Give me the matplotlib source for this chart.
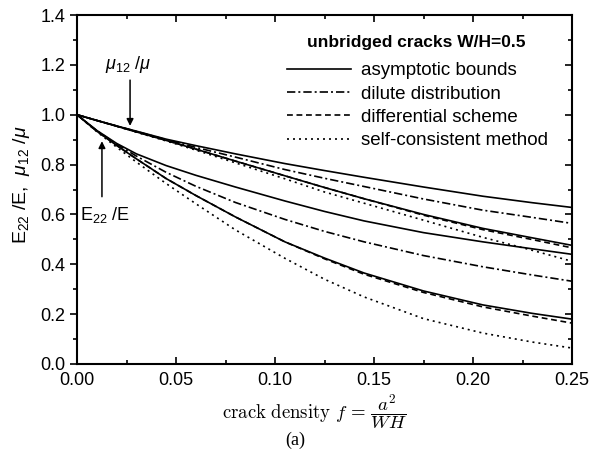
import numpy as np
import matplotlib
matplotlib.use('Agg')
import matplotlib.pyplot as plt
from matplotlib.lines import Line2D
from matplotlib.ticker import MultipleLocator, FormatStrFormatter

plt.rcParams['font.family'] = ['Liberation Sans', 'DejaVu Sans']
plt.rcParams['mathtext.fontset'] = 'custom'
plt.rcParams['mathtext.rm'] = 'Liberation Sans'
plt.rcParams['mathtext.it'] = 'Liberation Sans:italic'

# crack density values where curves were read
f = [0.0, 0.01, 0.02, 0.03, 0.045, 0.06, 0.08, 0.105, 0.125, 0.145, 0.175, 0.205, 0.23, 0.25]

# shear modulus mu12/mu
mu_upper = [1.0, 0.977, 0.955, 0.934, 0.902, 0.876, 0.843, 0.804, 0.776, 0.749, 0.710, 0.673, 0.647, 0.628]
mu_dilute = [1.0, 0.977, 0.955, 0.933, 0.900, 0.869, 0.830, 0.780, 0.745, 0.712, 0.662, 0.617, 0.588, 0.564]
mu_lower = [1.0, 0.977, 0.954, 0.931, 0.897, 0.862, 0.814, 0.755, 0.708, 0.663, 0.600, 0.544, 0.506, 0.476]
mu_diff = [1.0, 0.977, 0.954, 0.931, 0.897, 0.862, 0.814, 0.755, 0.708, 0.663, 0.597, 0.539, 0.499, 0.466]
mu_sc = [1.0, 0.977, 0.954, 0.930, 0.895, 0.858, 0.807, 0.743, 0.690, 0.645, 0.577, 0.508, 0.456, 0.412]

# Young's modulus E22/E
e_upper = [1.0, 0.937, 0.885, 0.843, 0.796, 0.757, 0.710, 0.654, 0.612, 0.574, 0.527, 0.490, 0.462, 0.440]
e_dilute = [1.0, 0.936, 0.882, 0.834, 0.769, 0.713, 0.648, 0.580, 0.532, 0.490, 0.435, 0.390, 0.357, 0.332]
e_lower = [1.0, 0.934, 0.877, 0.823, 0.744, 0.676, 0.590, 0.490, 0.425, 0.365, 0.293, 0.237, 0.203, 0.180]
e_diff = [1.0, 0.934, 0.877, 0.823, 0.744, 0.676, 0.590, 0.490, 0.422, 0.360, 0.287, 0.229, 0.192, 0.164]
e_sc = [1.0, 0.932, 0.870, 0.810, 0.724, 0.643, 0.538, 0.424, 0.340, 0.269, 0.182, 0.124, 0.088, 0.064]

legend_title = 'unbridged cracks W/H=0.5'
legend_labels = ['asymptotic bounds', 'dilute distribution',
                 'differential scheme', 'self-consistent method']

styles = {
    'solid': '-',
    'dashdot': (0, (5, 1.8, 1.2, 1.8)),
    'dashed': (0, (3.5, 2.2)),
    'dotted': (0, (1.2, 2.4)),
}
lw = 1.2

fig = plt.figure(figsize=(5.89, 4.70), dpi=100)
ax = fig.add_axes([77 / 589, 106 / 470, 495 / 589, 349 / 470])

for up, dil, low, dif, sc in [(mu_upper, mu_dilute, mu_lower, mu_diff, mu_sc),
                              (e_upper, e_dilute, e_lower, e_diff, e_sc)]:
    ax.plot(f, up, color='black', lw=lw, ls=styles['solid'])
    ax.plot(f, dil, color='black', lw=lw, ls=styles['dashdot'])
    ax.plot(f, dif, color='black', lw=lw, ls=styles['dashed'])
    ax.plot(f, low, color='black', lw=lw, ls=styles['solid'])
    ax.plot(f, sc, color='black', lw=lw, ls=styles['dotted'])

ax.set_xlim(0, 0.25)
ax.set_ylim(0, 1.4)
ax.xaxis.set_major_locator(MultipleLocator(0.05))
ax.xaxis.set_minor_locator(MultipleLocator(0.025))
ax.yaxis.set_major_locator(MultipleLocator(0.2))
ax.yaxis.set_minor_locator(MultipleLocator(0.1))
ax.xaxis.set_major_formatter(FormatStrFormatter('%.2f'))
ax.yaxis.set_major_formatter(FormatStrFormatter('%.1f'))

for sp in ax.spines.values():
    sp.set_linewidth(1.5)
ax.tick_params(axis='x', which='both', direction='in', top=True, width=1.2,
               labelsize=13, pad=6)
ax.tick_params(axis='x', which='major', length=5)
ax.tick_params(axis='x', which='minor', length=3)
ax.tick_params(axis='y', which='both', direction='out', width=1.2, labelsize=13)
ax.tick_params(axis='y', which='major', length=5)
ax.tick_params(axis='y', which='minor', length=3)

# right-hand ticks point inwards
ax2 = ax.twinx()
ax2.set_ylim(0, 1.4)
ax2.yaxis.set_major_locator(MultipleLocator(0.2))
ax2.yaxis.set_minor_locator(MultipleLocator(0.1))
ax2.tick_params(axis='y', which='both', direction='in', width=1.2, labelright=False)
ax2.tick_params(axis='y', which='major', length=5)
ax2.tick_params(axis='y', which='minor', length=3)
for sp in ax2.spines.values():
    sp.set_visible(False)

ax.set_ylabel(r'E$_{22}$ /E,  $\mu_{12}$ /$\mu$', fontsize=14)
ax.yaxis.set_label_coords(-0.09, 0.515)
ax.set_xlabel(r'$\mathrm{crack\ density}\ f\, =\, \dfrac{a^2}{WH}$',
              fontsize=13.5, math_fontfamily='cm')
ax.xaxis.set_label_coords(0.48, -0.082)
fig.text(295 / 589, 1 - 440 / 470, '(a)', ha='center', va='center',
         fontsize=13, family='Liberation Serif')

# arrows to the two groups of curves
ax.annotate('', xy=(0.0268, 0.944), xytext=(0.0268, 1.15),
            arrowprops=dict(arrowstyle='-|>', color='black', lw=1.1,
                            mutation_scale=10))
ax.text(0.0258, 1.2, r'$\mu_{12}$ /$\mu$', ha='center', va='center', fontsize=13)
ax.annotate('', xy=(0.0126, 0.905), xytext=(0.0126, 0.66),
            arrowprops=dict(arrowstyle='-|>', color='black', lw=1.1,
                            mutation_scale=10))
ax.text(0.0141, 0.596, r'E$_{22}$ /E', ha='center', va='center', fontsize=13)

# legend title drawn separately, entries below it
ax.text((416 - 77) / 495, (364 - 43) / 349, legend_title, transform=ax.transAxes,
        ha='center', va='center', fontsize=12.5, fontweight='bold')
handles = [Line2D([], [], color='black', lw=lw, ls=styles[k])
           for k in ['solid', 'dashdot', 'dashed', 'dotted']]
leg = ax.legend(handles, legend_labels,
                loc='upper left', bbox_to_anchor=(0.424, 0.865), frameon=False,
                fontsize=13.5, handlelength=3.4, handletextpad=0.55,
                labelspacing=0.33, borderaxespad=0, borderpad=0)

fig.savefig('out.png', dpi=100)
